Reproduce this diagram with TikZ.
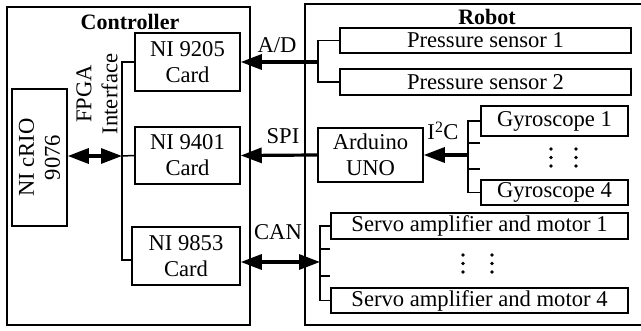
\documentclass[tikz,border=0pt]{standalone}
\usepackage{fontspec}
\setmainfont{Liberation Serif}
\usetikzlibrary{arrows.meta}
\begin{document}
\begin{tikzpicture}[x=1pt,y=-1pt,
  every node/.style={font=\fontsize{22.6}{26}\selectfont, inner sep=0pt},
  box/.style={draw, line width=1.5pt, align=center},
  outer/.style={line width=2.2pt},
  thinline/.style={line width=1.5pt},
  busline/.style={line width=3.2pt},
  tipend/.style={-{Triangle[length=21pt,width=15pt]}},
  tipboth/.style={{Triangle[length=21pt,width=15pt]}-{Triangle[length=21pt,width=15pt]}},
  title/.style={font=\fontsize{22}{26}\selectfont\bfseries},
  dot/.style={fill=black}
]
\useasboundingbox (0,0) rectangle (641,331);

% outer frames
\draw[outer] (7,7) rectangle (250,325);
\draw[outer] (641,4) -- (305,4) -- (305,325) -- (641,325);
\node[title] (tctrl) at (130,22) {Controller};
\node[title] (trobot) at (487,17) {Robot};

% controller nodes
\node[box, minimum width=105pt, minimum height=58pt] (c9205) at (187.5,62) {NI 9205\\Card};
\node[box, minimum width=105pt, minimum height=57pt] (c9401) at (187.5,155.5) {NI 9401\\Card};
\node[box, minimum width=108pt, minimum height=58pt] (c9853) at (186,256) {NI 9853\\Card};
\node[box, minimum width=55pt, minimum height=137pt] (crio) at (39.5,157.5) {};
\node[rotate=90, align=center] (criotext) at (crio.center) {NI cRIO\\9076};
\node[rotate=90, align=center] (fpga) at (97,94) {FPGA\\Interface};

% robot nodes
\node[box, minimum width=291pt, minimum height=25pt] (ps1) at (485.5,40.5) {Pressure sensor 1};
\node[box, minimum width=291pt, minimum height=26pt] (ps2) at (485.5,82) {Pressure sensor 2};
\node[box, minimum width=105pt, minimum height=54pt] (ard) at (370.5,155) {Arduino\\UNO};
\node[box, minimum width=147pt, minimum height=30pt] (g1) at (554.5,121) {Gyroscope 1};
\node[box, minimum width=147pt, minimum height=25pt] (g4) at (554.5,192.5) {Gyroscope 4};
\node[box, minimum width=297pt, minimum height=26pt] (s1) at (479.5,226) {Servo amplifier and motor 1};
\node[box, minimum width=297pt, minimum height=25pt] (s4) at (479.5,300.5) {Servo amplifier and motor 4};

% labels
\node (lad) at (277,45) {A/D};
\node (lspi) at (283,136) {SPI};
\node (lcan) at (278,232) {CAN};
\node (li2c) at (443,131) {I\textsuperscript{2}C};

% controller bus
\coordinate (cb) at (122,156);
\coordinate (cbbot) at (122,260);
\draw[thinline] (c9205.west) -| (cb) -- (cbbot) -- (cbbot -| c9853.west);
\draw[thinline] (cb) -- (c9401.west);
\draw[busline, tipboth] (crio.east |- cb) -- (cb);

% pressure sensors / A/D
\coordinate (psb) at (318,62);
\draw[thinline] (ps1.west) -| (psb) |- (ps2.west);
\draw[busline, tipend] (psb) -- (c9205.east);

% SPI
\draw[busline, tipend] (ard.west) -- (c9401.east);

% gyroscopes / I2C
\coordinate (gb) at (468,155);
\coordinate (gt1) at (468,143);
\coordinate (gt2) at (468,169);
\draw[thinline] (g1.west) -| (gb) |- (g4.west);
\draw[thinline] (gt1) -- (gt1 -| g1.west);
\draw[thinline] (gt2) -- (gt2 -| g1.west);
\draw[busline, tipend] (gb) -- (ard.east);

% servos / CAN
\coordinate (sb) at (320,262);
\coordinate (st1) at (320,249);
\coordinate (st2) at (320,276);
\draw[thinline] (s1.west) -| (sb) |- (s4.west);
\draw[thinline] (st1) -- (st1 -| s1.west);
\draw[thinline] (st2) -- (st2 -| s1.west);
\draw[busline, tipboth] (c9853.east |- sb) -- (sb);

% vertical dots
\foreach \x in {551,576} {
  \foreach \y in {149,157.5,166} { \fill[dot] (\x,\y) circle (1.8pt); }
}
\foreach \x in {463,492} {
  \foreach \y in {255,263.5,272} { \fill[dot] (\x,\y) circle (1.8pt); }
}
\end{tikzpicture}
\end{document}
